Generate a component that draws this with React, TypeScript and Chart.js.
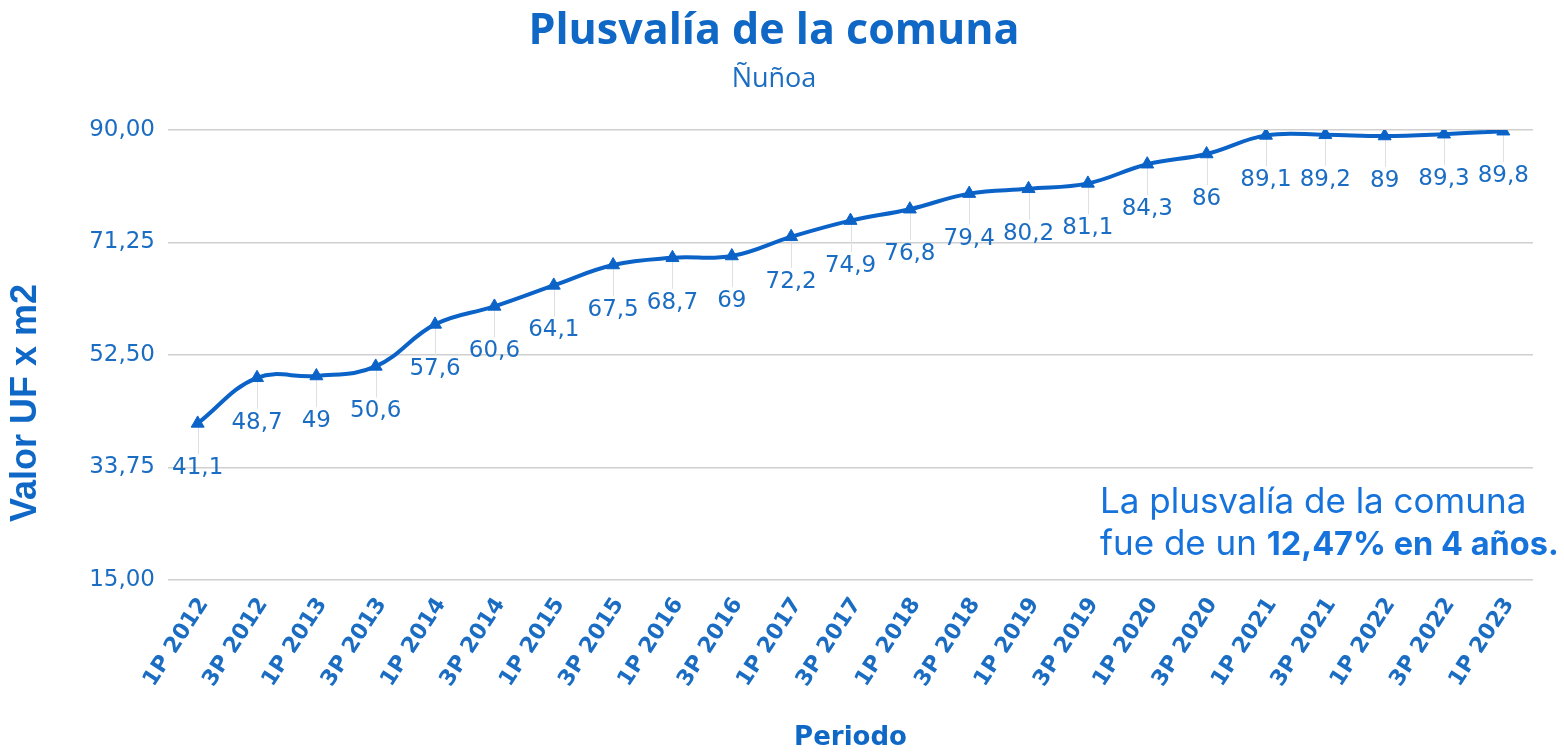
import React, { useEffect, useRef } from "react";
import { Chart, registerables } from "chart.js";

Chart.register(...registerables);

const categories: string[] = [
  "1P 2012", "3P 2012", "1P 2013", "3P 2013", "1P 2014", "3P 2014",
  "1P 2015", "3P 2015", "1P 2016", "3P 2016", "1P 2017", "3P 2017",
  "1P 2018", "3P 2018", "1P 2019", "3P 2019", "1P 2020", "3P 2020",
  "1P 2021", "3P 2021", "1P 2022", "3P 2022", "1P 2023",
];

const values: number[] = [
  41.1, 48.7, 49, 50.6, 57.6, 60.6, 64.1, 67.5, 68.7, 69, 72.2, 74.9,
  76.8, 79.4, 80.2, 81.1, 84.3, 86, 89.1, 89.2, 89, 89.3, 89.8,
];

const yTickValues: number[] = [15, 33.75, 52.5, 71.25, 90];

const titleText = "Plusvalía de la comuna";
const subtitleText = "Ñuñoa";
const yTitleText = "Valor UF x m2";
const xTitleText = "Periodo";
const noteLine1 = "La plusvalía de la comuna";
const noteLine2Regular = "fue de un ";
const noteLine2Bold = "12,47% en 4 años.";

const BLUE_TEXT = "#1B6DC3";
const BLUE_TITLE = "#0F67C6";
const BLUE_LINE = "#0B63C8";
const BLUE_NOTE = "#1673DC";

const fmtComma = (v: number, d?: number) =>
  (d === undefined ? String(v) : v.toFixed(d)).replace(".", ",");

const textPlugin = {
  id: "customTexts",
  beforeDatasetsDraw(chart: any) {
    const ctx = chart.ctx;
    const meta = chart.getDatasetMeta(0);
    ctx.save();
    ctx.strokeStyle = "#e0e0e0";
    ctx.lineWidth = 1;
    meta.data.forEach((pt: any) => {
      ctx.beginPath();
      ctx.moveTo(Math.round(pt.x) + 0.5, pt.y);
      ctx.lineTo(Math.round(pt.x) + 0.5, pt.y + 31);
      ctx.stroke();
    });
    ctx.restore();
  },
  afterDatasetsDraw(chart: any) {
    const ctx = chart.ctx;
    const meta = chart.getDatasetMeta(0);
    ctx.save();
    ctx.fillStyle = BLUE_TEXT;
    ctx.font = '23px "DejaVu Sans"';
    ctx.textAlign = "center";
    ctx.textBaseline = "middle";
    meta.data.forEach((pt: any, i: number) => {
      ctx.fillText(fmtComma(values[i]), pt.x, pt.y + 45);
    });
    ctx.restore();
  },
  afterDraw(chart: any) {
    const ctx = chart.ctx;
    const area = chart.chartArea;
    const cx = chart.width / 2 - 8;
    ctx.save();
    // Title
    ctx.fillStyle = BLUE_TITLE;
    ctx.textAlign = "center";
    ctx.textBaseline = "alphabetic";
    ctx.font = 'bold 43px "Open Sans"';
    ctx.fillText(titleText, cx, 36);
    ctx.fillStyle = BLUE_TEXT;
    ctx.font = '27px "Open Sans"';
    ctx.fillText(subtitleText, cx, 79);

    // Y axis title
    ctx.save();
    ctx.translate(18, 395);
    ctx.rotate(-Math.PI / 2);
    ctx.fillStyle = BLUE_TITLE;
    ctx.font = 'bold 36px "Liberation Sans"';
    ctx.textAlign = "center";
    ctx.textBaseline = "middle";
    ctx.fillText(yTitleText, 0, 0);
    ctx.restore();

    // X axis title
    ctx.fillStyle = BLUE_TITLE;
    ctx.font = 'bold 26px "DejaVu Sans"';
    ctx.textAlign = "center";
    ctx.textBaseline = "alphabetic";
    ctx.fillText(xTitleText, (area.left + area.right) / 2, 737);

    // Note
    ctx.fillStyle = BLUE_NOTE;
    ctx.textAlign = "left";
    ctx.textBaseline = "alphabetic";
    const nx = area.right - 433;
    ctx.font = '35px "Inter"';
    ctx.fillText(noteLine1, nx, area.bottom - 67);
    ctx.fillText(noteLine2Regular, nx, area.bottom - 25);
    const w = ctx.measureText(noteLine2Regular).width;
    ctx.font = 'bold 32.5px "Inter"';
    ctx.fillText(noteLine2Bold, nx + w, area.bottom - 25);
    ctx.restore();
  },
};

export default function App() {
  const canvasRef = useRef<HTMLCanvasElement | null>(null);

  useEffect(() => {
    if (!canvasRef.current) return;
    const chart = new Chart(canvasRef.current, {
      type: "line",
      data: {
        labels: categories,
        datasets: [
          {
            data: values,
            borderColor: BLUE_LINE,
            backgroundColor: BLUE_LINE,
            borderWidth: 4,
            tension: 0.4,
            pointStyle: "triangle",
            pointRadius: 7.5,
            pointHoverRadius: 7.5,
            pointBackgroundColor: BLUE_LINE,
            pointBorderColor: BLUE_LINE,
            pointBorderWidth: 1,
            fill: false,
          },
        ],
      },
      options: {
        animation: false,
        responsive: true,
        maintainAspectRatio: false,
        layout: { padding: { top: 122, right: 23, bottom: 0, left: 0 } },
        plugins: {
          legend: { display: false },
          tooltip: { enabled: false },
          title: { display: false },
        },
        scales: {
          x: {
            offset: true,
            grid: { display: false, drawTicks: false },
            border: { display: false },
            ticks: {
              color: BLUE_TEXT,
              font: { family: "DejaVu Sans", size: 22, weight: "bold" },
              minRotation: 57,
              maxRotation: 57,
              autoSkip: false,
              padding: 13,
              labelOffset: 6,
            },
            afterFit(scale: any) {
              scale.height = 166;
            },
          },
          y: {
            min: 15,
            max: 90,
            grid: { color: "#d0d0d0", lineWidth: 1.6, drawTicks: false },
            border: { display: false },
            ticks: {
              color: BLUE_TEXT,
              font: { family: "DejaVu Sans", size: 23 },
              padding: 13,
              callback: (v: any) => fmtComma(Number(v), 2),
            },
            afterBuildTicks(scale: any) {
              scale.ticks = yTickValues.map((v) => ({ value: v }));
            },
            afterFit(scale: any) {
              scale.width = 160;
            },
          },
        },
      },
      plugins: [textPlugin],
    });
    return () => chart.destroy();
  }, []);

  return (
    <div style={{ position: "relative", width: "100%", height: 738 }}>
      <canvas ref={canvasRef} />
    </div>
  );
}
